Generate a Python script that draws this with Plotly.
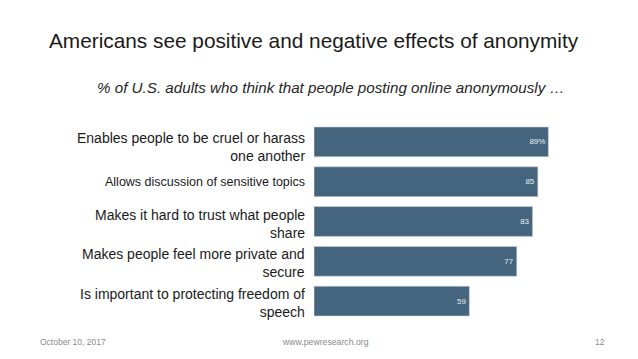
import plotly.graph_objects as go

categories = [
    "Enables people to be cruel or harass<br>one another",
    "Allows discussion of sensitive topics",
    "Makes it hard to trust what people<br>share",
    "Makes people feel more private and<br>secure",
    "Is important to protecting freedom of<br>speech",
]
values = [89, 85, 83, 77, 59]
value_labels = ["89%", "85", "83", "77", "59"]
label_sizes = [14, 12.5, 14, 14, 14]
label_shifts = [-5, 0, -2, -2, -2]

BAR = "#45657e"
FONT = "Liberation Sans, Arial, sans-serif"
OFF = 8  # page body margin
W, H = 638, 359
L, R, T, B = 314 - OFF, W - 580 + OFF, 122 - OFF, H - 321 + OFF

fig = go.Figure(go.Bar(
    x=values, y=list(range(len(values))), orientation="h",
    marker=dict(color=BAR, line=dict(color="#c9d6df", width=0.6)),
    text=value_labels, textposition="inside", insidetextanchor="end",
    textfont=dict(size=8, color="#e6edf2", family=FONT),
    width=0.75, hoverinfo="skip",
))

for i, (c, s, sh) in enumerate(zip(categories, label_sizes, label_shifts)):
    fig.add_annotation(
        x=0, xref="paper", y=i, yref="y", text=c, showarrow=False,
        xanchor="right", yanchor="middle", align="right", xshift=-7, yshift=sh,
        font=dict(size=s, color="#1a1a1a", family=FONT),
    )

fig.update_layout(
    width=W, height=H,
    margin=dict(l=L, r=R, t=T, b=B),
    paper_bgcolor="white", plot_bgcolor="white",
    showlegend=False,
    xaxis=dict(range=[0, 101], visible=False, fixedrange=True),
    yaxis=dict(range=[4.5, -0.5], visible=False, fixedrange=True),
    bargap=0.25,
    font=dict(family=FONT),
)

def px_y(y):
    y -= OFF
    return 1 - (y - T) / (H - T - B)

def px_x(x):
    x -= OFF
    return (x - L) / (W - L - R)

fig.add_annotation(x=px_x(314), y=px_y(40), xref="paper", yref="paper",
                   xanchor="center", yanchor="middle", showarrow=False,
                   text="Americans see positive and negative effects of anonymity",
                   font=dict(size=20.8, color="#1a1a1a", family=FONT))
fig.add_annotation(x=px_x(331), y=px_y(88), xref="paper", yref="paper",
                   xanchor="center", yanchor="middle", showarrow=False,
                   text="<i>% of U.S. adults who think that people posting online anonymously …</i>",
                   font=dict(size=15.2, color="#262626", family=FONT))
fig.add_annotation(x=px_x(38), y=px_y(342), xref="paper", yref="paper",
                   xanchor="left", yanchor="middle", showarrow=False,
                   text="October 10, 2017", font=dict(size=8.5, color="#8a8a8a", family=FONT))
fig.add_annotation(x=px_x(325), y=px_y(342), xref="paper", yref="paper",
                   xanchor="center", yanchor="middle", showarrow=False,
                   text="www.pewresearch.org", font=dict(size=8.7, color="#8a8a8a", family=FONT))
fig.add_annotation(x=px_x(607), y=px_y(342), xref="paper", yref="paper",
                   xanchor="right", yanchor="middle", showarrow=False,
                   text="12", font=dict(size=8.5, color="#8a8a8a", family=FONT))

fig.write_html("out.html")
